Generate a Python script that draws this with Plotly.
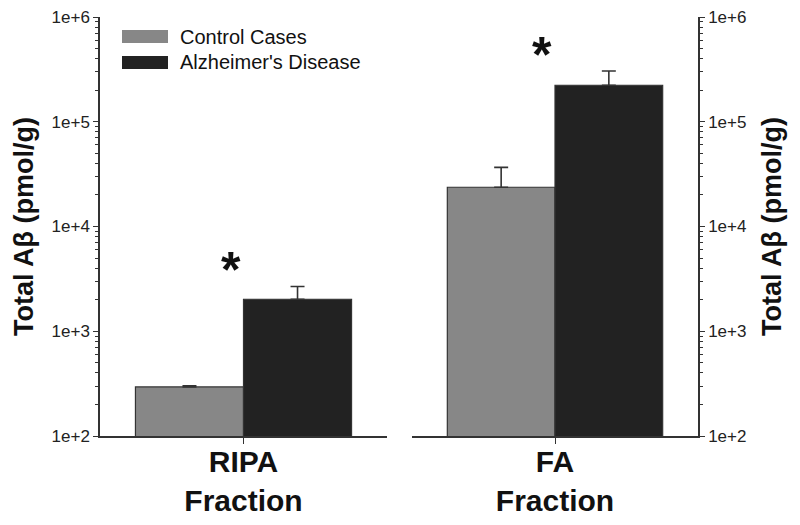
import plotly.graph_objects as go
import math

# ---- data ----
fractions = ["RIPA<br>Fraction", "FA<br>Fraction"]
groups = ["Control Cases", "Alzheimer's Disease"]
control_vals = [294, 23700]
control_err = [8, 13000]
ad_vals = [2020, 223000]
ad_err = [650, 82000]
ytick_vals = [1e2, 1e3, 1e4, 1e5, 1e6]
ytick_text = ["1e+2", "1e+3", "1e+4", "1e+5", "1e+6"]
y_title = "Total A\u03b2 (pmol/g)"

GRAY = "#878787"
BLACK = "#222222"
LINE = "#333333"
FONT = "Liberation Sans, Arial, sans-serif"

# page body has an 8px margin, so the figure is drawn 8px smaller
OFF = 8
W, H = 800 - OFF, 525 - OFF
L, R, T, B = 100 - OFF, W - (698 - OFF), 17 - OFF, H - (436 - OFF)
pw = W - L - R
ph = H - T - B

fig = go.Figure()
xaxes = ["x", "x2"]
yaxes = ["y", "y2"]
for i in range(2):
    fig.add_trace(go.Bar(
        x=[fractions[i]], y=[control_vals[i]], name=groups[0],
        marker=dict(color=GRAY, line=dict(color=LINE, width=1.2)),
        error_y=dict(type="data", array=[control_err[i]], symmetric=False,
                     arrayminus=[0], color=LINE, thickness=1.6, width=7),
        xaxis=xaxes[i], yaxis=yaxes[i], showlegend=False))
    fig.add_trace(go.Bar(
        x=[fractions[i]], y=[ad_vals[i]], name=groups[1],
        marker=dict(color=BLACK, line=dict(color=LINE, width=1.2)),
        error_y=dict(type="data", array=[ad_err[i]], symmetric=False,
                     arrayminus=[0], color=LINE, thickness=1.6, width=7),
        xaxis=xaxes[i], yaxis=yaxes[i], showlegend=False))

minor_vals = [k * 10 ** d for d in range(2, 6) for k in range(2, 10)]

def yax(standoff):
    return dict(
        type="log", range=[2, 6], tickmode="array", tickvals=ytick_vals,
        ticktext=ytick_text, ticks="outside", ticklen=5, tickwidth=1.3,
        tickcolor=LINE, showline=True, linecolor=LINE, linewidth=1.5,
        showgrid=False, zeroline=False, automargin=False,
        ticklabeloverflow="allow",
        tickfont=dict(family=FONT, size=17, color="#222"),
        minor=dict(tickmode="array", tickvals=minor_vals, ticks="outside",
                   ticklen=3, tickwidth=1, tickcolor=LINE, showgrid=False),
        title=dict(text="<b>" + y_title + "</b>",
                   font=dict(family=FONT, size=27, color="#111"),
                   standoff=standoff),
    )

xax_common = dict(
    type="category", range=[-0.5, 0.5], ticks="outside", ticklen=6,
    tickwidth=1.3, tickcolor=LINE, showline=True, linecolor=LINE,
    linewidth=1.5, showgrid=False, zeroline=False, automargin=False,
    ticklabelstandoff=-8, ticklabeloverflow="allow",
    tickfont=dict(family=FONT, size=30, color="#111"),
)

d1 = 287 / pw
d2 = 312 / pw
fig.update_layout(
    width=W, height=H, margin=dict(l=L, r=R, t=T, b=B, autoexpand=False),
    paper_bgcolor="white", plot_bgcolor="white",
    barmode="group", bargap=0.247, bargroupgap=0,
    xaxis=dict(domain=[0, d1], anchor="y", **xax_common),
    xaxis2=dict(domain=[d2, 1], anchor="y2", **xax_common),
    yaxis=dict(anchor="x", side="left", **yax(10)),
    yaxis2=dict(anchor="x2", side="right", **yax(17)),
    font=dict(family=FONT),
)
fig.update_xaxes(tickprefix="<b>", ticksuffix="</b>")

# significance asterisks above AD bars
for i in range(2):
    top = ad_vals[i] + ad_err[i]
    fig.add_annotation(
        x=-0.045, y=math.log10(top * 1.7), xref=xaxes[i], yref=yaxes[i],
        text="<b>*</b>", showarrow=False, yanchor="middle", yshift=-8,
        font=dict(family=FONT, size=50, color="#111"))

# manual legend
def px(x):
    return (x - OFF - L) / pw

def py(y):
    return (T + ph - (y - OFF)) / ph

legend_items = [(groups[0], GRAY, 30, 43), (groups[1], BLACK, 56, 69)]
for name, col, y0, y1 in legend_items:
    fig.add_shape(type="rect", xref="paper", yref="paper",
                  x0=px(122), x1=px(168), y0=py(y1), y1=py(y0),
                  fillcolor=col, line=dict(width=0))
    fig.add_annotation(xref="paper", yref="paper", x=px(178),
                       y=py((y0 + y1) / 2), text=name, showarrow=False,
                       xanchor="left", yanchor="middle",
                       font=dict(family=FONT, size=20, color="#111"))

fig.write_html("out.html")
